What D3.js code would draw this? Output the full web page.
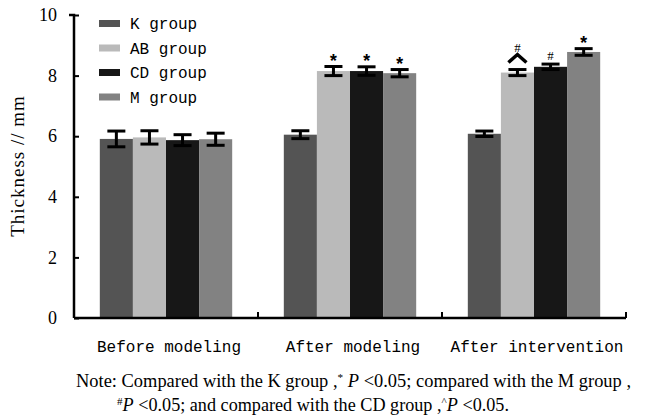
<!DOCTYPE html>
<html>
<head>
<meta charset="utf-8">
<script src="https://cdn.jsdelivr.net/npm/d3@7"></script>
<style>
  body { margin: 0; background: #fff; }
  .mono { font-family: "Liberation Mono", monospace; }
  .serif { font-family: "Liberation Serif", serif; }
</style>
</head>
<body>
<div id="chart"></div>
<script>
// data
var phases = ["Before modeling", "After modeling", "After intervention"];
var groups = ["K group", "AB group", "CD group", "M group"];
var colors = ["#545454", "#bababa", "#171717", "#828282"];
var means = [
  [5.91, 5.96, 5.87, 5.90],
  [6.05, 8.15, 8.15, 8.08],
  [6.08, 8.10, 8.29, 8.78]
];
var errs = [
  [0.26, 0.22, 0.18, 0.20],
  [0.13, 0.15, 0.14, 0.12],
  [0.09, 0.10, 0.09, 0.11]
];
// markers above each bar: '*' vs K, '#' vs M, '^' vs CD
var marks = [
  ["", "", "", ""],
  ["", "*", "*", "*"],
  ["", "^#", "#", "*"]
];
var yTicks = [0, 2, 4, 6, 8, 10];

var width = 646, height = 418;
var margin = {top: 15, left: 74, right: 20, bottom: 100};

var svg = d3.select('#chart').append('svg')
  .attr('width', width)
  .attr('height', height);

var xScale = d3.scaleBand()
  .domain(phases)
  .range([margin.left, 626])
  .paddingInner(0).paddingOuter(0);

var xInner = d3.scaleBand()
  .domain(groups)
  .range([0, xScale.bandwidth()])
  .paddingOuter(0.78);

var yScale = d3.scaleLinear()
  .domain([0, 10])
  .range([318, 15]);

// bars
var g = svg.append('g');
phases.forEach(function (p, i) {
  var pg = g.append('g').attr('transform', 'translate(' + xScale(p) + ',0)');
  groups.forEach(function (grp, j) {
    var x = xInner(grp), w = xInner.bandwidth();
    var v = means[i][j], e = errs[i][j];
    pg.append('rect')
      .attr('x', x).attr('width', w)
      .attr('y', yScale(v)).attr('height', yScale(0) - yScale(v))
      .attr('fill', colors[j]);
    var cx = x + w / 2;
    var eb = pg.append('g').attr('stroke', '#000').attr('stroke-width', 3);
    eb.append('line').attr('x1', cx).attr('x2', cx)
      .attr('y1', yScale(v + e)).attr('y2', yScale(v - e));
    eb.append('line').attr('x1', cx - 9).attr('x2', cx + 9)
      .attr('y1', yScale(v + e)).attr('y2', yScale(v + e));
    eb.append('line').attr('x1', cx - 9).attr('x2', cx + 9)
      .attr('y1', yScale(v - e)).attr('y2', yScale(v - e));

    var m = marks[i][j];
    var top = yScale(v + e) - 4;
    if (m.indexOf('^') >= 0) {
      pg.append('path')
        .attr('d', 'M' + (cx - 9) + ',' + (top - 3) + 'L' + cx + ',' + (top - 11) + 'L' + (cx + 9) + ',' + (top - 3))
        .attr('fill', 'none').attr('stroke', '#000').attr('stroke-width', 3.5);
      top -= 14;
    }
    if (m.indexOf('#') >= 0) {
      pg.append('text').attr('class', 'serif')
        .attr('x', cx).attr('y', top).attr('text-anchor', 'middle')
        .attr('font-size', 13).text('#');
    }
    if (m.indexOf('*') >= 0) {
      pg.append('text').attr('class', 'mono')
        .attr('x', cx).attr('y', top + 4).attr('text-anchor', 'middle')
        .attr('font-size', 18).attr('font-weight', 'bold').text('*');
    }
  });
});

// axes
var yAxis = d3.axisLeft(yScale).tickValues(yTicks).tickSize(5).tickPadding(12);
var ya = svg.append('g')
  .attr('transform', 'translate(' + margin.left + ',0)')
  .call(yAxis);
ya.select('.domain').attr('stroke-width', 2.5).attr('d', 'M-5,15H0V318');
ya.selectAll('.tick line').attr('x2', 5).attr('x1', 0).attr('stroke-width', 2);
ya.selectAll('.tick text').attr('class', 'serif').attr('font-size', 18).attr('fill', '#000');

var xa = svg.append('g');
xa.append('line').attr('x1', margin.left).attr('x2', 626)
  .attr('y1', 318).attr('y2', 318).attr('stroke', '#000').attr('stroke-width', 2.5);
phases.forEach(function (p, i) {
  var xr = xScale(p) + xScale.bandwidth();
  xa.append('line').attr('x1', xr).attr('x2', xr)
    .attr('y1', 318).attr('y2', 312).attr('stroke', '#000').attr('stroke-width', 2);
  xa.append('text').attr('class', 'mono')
    .attr('x', xScale(p) + xScale.bandwidth() / 2 + 3).attr('y', 352)
    .attr('text-anchor', 'middle').attr('font-size', 16).text(p);
});

svg.append('text')
  .attr('transform', 'translate(24,166) rotate(-90)')
  .attr('text-anchor', 'middle')
  .style('font-family', '"Liberation Serif", serif')
  .style('font-size', '19px')
  .style('letter-spacing', '1px')
  .text('Thickness // mm');

// legend
var lg = svg.append('g');
groups.forEach(function (grp, j) {
  var y = 20 + j * 24.5;
  lg.append('rect').attr('x', 99).attr('y', y).attr('width', 21).attr('height', 7)
    .attr('fill', colors[j]);
  lg.append('text').attr('class', 'mono')
    .attr('x', 130).attr('y', y + 9).attr('font-size', 16).text(grp);
});

// note
var n1 = svg.append('text').attr('class', 'serif').attr('x', 76).attr('y', 387).attr('font-size', 18)
  .attr('textLength', 555).attr('lengthAdjust', 'spacingAndGlyphs');
n1.append('tspan').text('Note:  Compared with the K group ,');
n1.append('tspan').attr('dy', -6).attr('font-size', 11).text('*');
n1.append('tspan').attr('dy', 6).text(' ');
n1.append('tspan').attr('font-style', 'italic').text('P');
n1.append('tspan').text(' <0.05;  compared with the M group ,');

var n2 = svg.append('text').attr('class', 'serif').attr('x', 117).attr('y', 411).attr('font-size', 18)
  .attr('textLength', 392).attr('lengthAdjust', 'spacingAndGlyphs');
n2.append('tspan').attr('dy', -6).attr('font-size', 11).text('#');
n2.append('tspan').attr('dy', 6).attr('font-style', 'italic').text('P');
n2.append('tspan').text(' <0.05;  and compared with the CD group ,');
n2.append('tspan').attr('dy', -6).attr('font-size', 11).text('^');
n2.append('tspan').attr('dy', 6).attr('font-style', 'italic').text('P');
n2.append('tspan').text(' <0.05.');
</script>
</body>
</html>
